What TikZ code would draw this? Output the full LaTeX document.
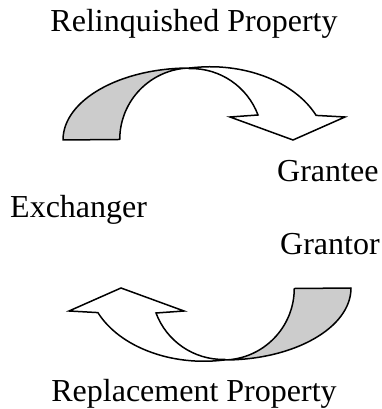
\documentclass[tikz,border=0pt]{standalone}
\usepackage{fontspec}
\setmainfont{Liberation Serif}
\usepackage{xcolor}
\usetikzlibrary{positioning}
\definecolor{bandgray}{HTML}{CCCCCC}

\begin{document}
\begin{tikzpicture}[
    x=1pt, y=1pt,
    caption/.style={inner sep=0pt, font=\fontsize{32}{38}\selectfont},
    band/.style={draw=black, fill=bandgray, line width=1.5pt, line join=round},
    shaft/.style={draw=black, fill=white, line width=1.5pt, line join=miter},
    pics/curvedarrow/.style={code={
        % back of the arrow
        \path [band] (-144,74) arc[start angle=180, end angle=90, x radius=127pt, y radius=72pt]
            arc[start angle=91, end angle=180, radius=71.5pt] -- cycle;
        % front of the arrow with its head
        \path [shaft] (-17,146) arc[start angle=100, end angle=24, x radius=116pt, y radius=82pt]
            -- (138,97) -- (86,74) -- (23,97) -- (51,99)
            arc[start angle=20.5, end angle=91, radius=71.5pt] -- cycle;
    }}
]
    \useasboundingbox (0,0) rectangle (381,409);

    % Arrows
    \pic (give) at (207,195) {curvedarrow};
    \pic [rotate=180] (take) at (207,195) {curvedarrow};

    % Nodes
    \node (relinquished) [caption, anchor=base] at (194,377) {Relinquished Property};
    \node (grantee) [caption, anchor=base west] at (277,227) {Grantee};
    \node (exchanger) [caption, anchor=base west] at (10,191) {Exchanger};
    \node (grantor) [caption, anchor=base west] at (280,154) {Grantor};
    \node (replacement) [caption, anchor=base] at (194,8) {Replacement Property};
\end{tikzpicture}
\end{document}
